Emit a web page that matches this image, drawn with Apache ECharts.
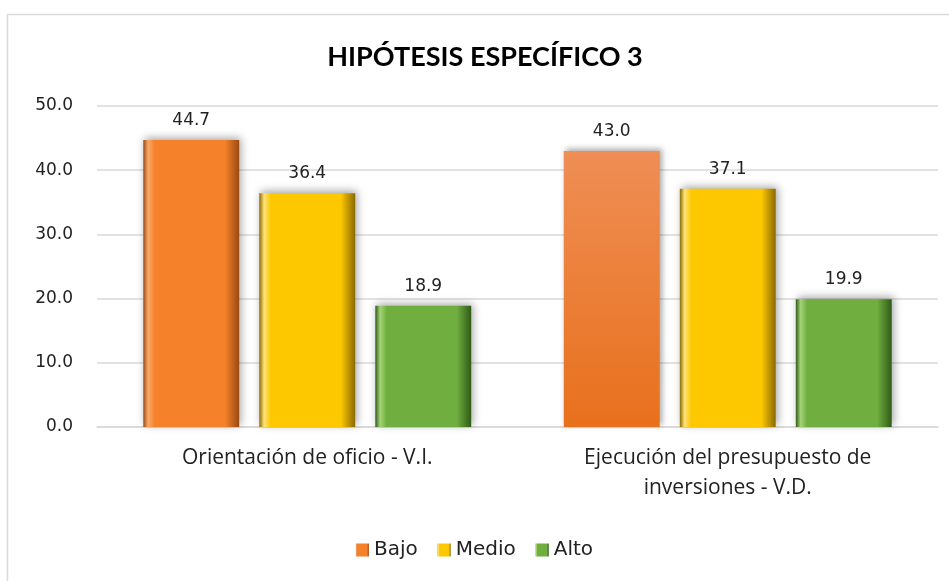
<!DOCTYPE html>
<html>
<head>
<meta charset="utf-8">
<script src="https://cdn.jsdelivr.net/npm/echarts@6/dist/echarts.min.js"></script>
<style>
html, body { margin: 0; padding: 0; background: #fff; }
#main { width: 949px; height: 581px; }
</style>
</head>
<body>
<div id="main"></div>
<script>
var categorias = ['Orientación de oficio - V.I.', 'Ejecución del presupuesto de\ninversiones - V.D.'];
var bajo = [44.7, 43.0];
var medio = [36.4, 37.1];
var alto = [18.9, 19.9];
var ticksY = [0, 10, 20, 30, 40, 50];

function bevel(light, mid, dark) {
    return new echarts.graphic.LinearGradient(0, 0, 1, 0, [
        { offset: 0, color: dark },
        { offset: 0.05, color: light },
        { offset: 0.12, color: mid },
        { offset: 0.85, color: mid },
        { offset: 1, color: dark }
    ]);
}

var chart = echarts.init(document.getElementById('main'));

var labelTop = {
    show: true,
    position: 'top',
    distance: 11,
    fontFamily: 'DejaVu Sans',
    fontSize: 17,
    color: '#222',
    formatter: function (p) { return p.value.toFixed(1); }
};

function serie(nombre, datos, light, mid, dark) {
    return {
        name: nombre,
        type: 'bar',
        barWidth: '22.8%',
        barGap: '21%',
        data: datos,
        label: labelTop,
        itemStyle: {
            color: bevel(light, mid, dark),
            borderColor: light,
            borderWidth: 0,
            shadowColor: 'rgba(0,0,0,0.35)',
            shadowBlur: 8,
            shadowOffsetX: 2,
            shadowOffsetY: -2
        }
    };
}

var sBajo = serie('Bajo', bajo, '#f9a86a', '#f5822a', '#9a4a12');
// la segunda barra naranja es plana
sBajo.data = bajo.map(function (v, i) {
    if (i === 1) {
        return {
            value: v,
            itemStyle: {
                color: new echarts.graphic.LinearGradient(0, 0, 0, 1, [
                    { offset: 0, color: '#ef8e55' },
                    { offset: 1, color: '#e8701c' }
                ]),
                shadowBlur: 6
            }
        };
    }
    return v;
});

var option = {
    backgroundColor: '#fff',
    color: ['#f5822a', '#fdc800', '#6fae3f'],
    graphic: [{
        type: 'rect',
        shape: { x: 7.5, y: 14.5, width: 960, height: 600 },
        style: { fill: 'none', stroke: '#d9d9d9', lineWidth: 1.5 },
        silent: true,
        z: -1
    }],
    title: {
        text: 'HIPÓTESIS ESPECÍFICO 3',
        left: 480,
        textAlign: 'center',
        top: 39,
        textStyle: {
            fontFamily: 'Lato',
            fontWeight: 'bold',
            fontSize: 27,
            color: '#000'
        }
    },
    legend: {
        bottom: 16,
        left: 'center',
        icon: 'rect',
        itemWidth: 13,
        itemHeight: 13,
        itemGap: 20,
        textStyle: { fontFamily: 'DejaVu Sans', fontSize: 20, color: '#222' },
        data: ['Bajo', 'Medio', 'Alto']
    },
    grid: { left: 97, right: 11, top: 106, bottom: 154 },
    xAxis: {
        type: 'category',
        data: categorias,
        axisLine: { lineStyle: { color: '#d9d9d9', width: 1.5 } },
        axisTick: { show: false },
        axisLabel: {
            fontFamily: 'Open Sans',
            fontSize: 21,
            color: '#222',
            margin: 16,
            lineHeight: 30
        }
    },
    yAxis: {
        type: 'value',
        min: ticksY[0],
        max: ticksY[ticksY.length - 1],
        interval: 10,
        axisLine: { show: false },
        axisTick: { show: false },
        splitLine: { lineStyle: { color: '#d9d9d9', width: 1.5 } },
        axisLabel: {
            fontFamily: 'DejaVu Sans',
            fontSize: 17,
            color: '#222',
            margin: 24,
            formatter: function (v) { return v.toFixed(1); }
        }
    },
    series: [
        sBajo,
        serie('Medio', medio, '#ffe27a', '#fdc800', '#8a6a00'),
        serie('Alto', alto, '#a4d476', '#6fae3f', '#2f5a17')
    ]
};

chart.setOption(option);
window.onresize = chart.resize;
</script>
</body>
</html>
